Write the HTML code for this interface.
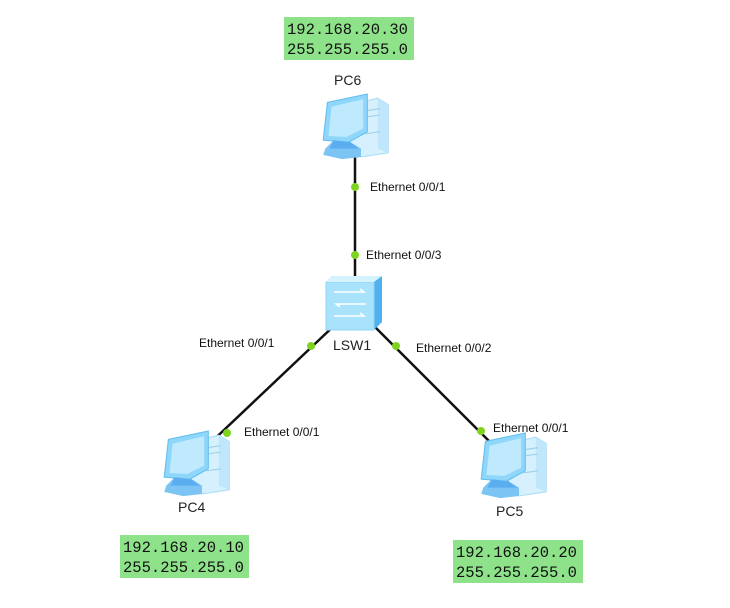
<!DOCTYPE html>
<html><head><meta charset="utf-8"><style>
body{margin:0;background:#fff;width:730px;height:608px;overflow:hidden}
svg{display:block}
.e{font-family:"Liberation Sans",sans-serif;font-size:12px;fill:#111}
.l{font-family:"Liberation Sans",sans-serif;font-size:14px;fill:#222}
.m{font-family:"Liberation Mono","DejaVu Sans Mono",monospace;font-size:15.5px;fill:#111}
</style></head><body>
<svg width="730" height="608" viewBox="0 0 730 608">
<defs>
<g id="pc">
 <polygon points="30,10 56,4 66,10 66,56 40,60 30,54" fill="#d6f1fd" stroke="#a9dcf5"/>
 <polygon points="56,4 66,10 66,56 56,52" fill="#bfe6fa"/>
 <line x1="44" y1="16" x2="58" y2="14" stroke="#9ccfe8"/>
 <line x1="44" y1="22" x2="58" y2="20" stroke="#9ccfe8"/>
 <line x1="44" y1="38" x2="58" y2="36" stroke="#9ccfe8"/>
 <polygon points="8,8 46,0 46,36 28,46 4,44" fill="#8fd6fb" stroke="#63bdf0"/>
 <polygon points="12,12 42,5 42,33 26,41 9,40" fill="#bfeafe"/>
 <polygon points="14,44 30,46 40,52 40,60 22,62 4,58 6,52" fill="#7cc4f4"/>
 <polygon points="14,44 30,46 38,52 10,52" fill="#5aaef0"/>
</g>
</defs>

<g stroke="#111" stroke-width="2.5">
 <line x1="355" y1="155" x2="355" y2="282"/>
 <line x1="338" y1="322" x2="205" y2="448"/>
 <line x1="370" y1="322" x2="492" y2="444"/>
</g>

<use href="#pc" transform="translate(319,94) scale(1.05)"/>
<use href="#pc" transform="translate(160,431) scale(1.05)"/>
<use href="#pc" transform="translate(477,433) scale(1.05)"/>

<g>
 <polygon points="326,282 332,276 382,276 382,322 374,330 326,330" fill="#4fb2ee"/>
 <rect x="326" y="282" width="48" height="48" fill="#a8e2fb" stroke="#8fd4f8"/>
 <polygon points="326,282 332,276 382,276 374,282" fill="#d4f3fe"/>
 <g stroke="#fff" stroke-width="1.5" fill="none">
  <path d="M334,292 H364 l-4,-3"/>
  <path d="M366,304 H336 l4,3"/>
  <path d="M334,316 H364 l-4,-3"/>
 </g>
</g>

<g fill="#7ed321">
 <circle cx="355" cy="187" r="4"/>
 <circle cx="355" cy="255" r="4"/>
 <circle cx="311" cy="346" r="4"/>
 <circle cx="227" cy="433" r="4"/>
 <circle cx="396" cy="346" r="4"/>
 <circle cx="481" cy="431" r="4"/>
</g>

<text class="e" x="370" y="191">Ethernet 0/0/1</text>
<text class="e" x="366" y="259">Ethernet 0/0/3</text>
<text class="e" x="199" y="347">Ethernet 0/0/1</text>
<text class="e" x="416" y="352">Ethernet 0/0/2</text>
<text class="e" x="244" y="436">Ethernet 0/0/1</text>
<text class="e" x="493" y="432">Ethernet 0/0/1</text>

<text class="l" x="334" y="85">PC6</text>
<text class="l" x="333" y="350">LSW1</text>
<text class="l" x="178" y="512">PC4</text>
<text class="l" x="496" y="516">PC5</text>

<rect x="284" y="17" width="130" height="43" fill="#8ee28a"/>
<text class="m" x="287" y="34">192.168.20.30</text>
<text class="m" x="287" y="54">255.255.255.0</text>
<rect x="120" y="535" width="129" height="43" fill="#8ee28a"/>
<text class="m" x="123" y="552">192.168.20.10</text>
<text class="m" x="123" y="572">255.255.255.0</text>
<rect x="453" y="540" width="130" height="43" fill="#8ee28a"/>
<text class="m" x="456" y="557">192.168.20.20</text>
<text class="m" x="456" y="577">255.255.255.0</text>
</svg>
</body></html>
